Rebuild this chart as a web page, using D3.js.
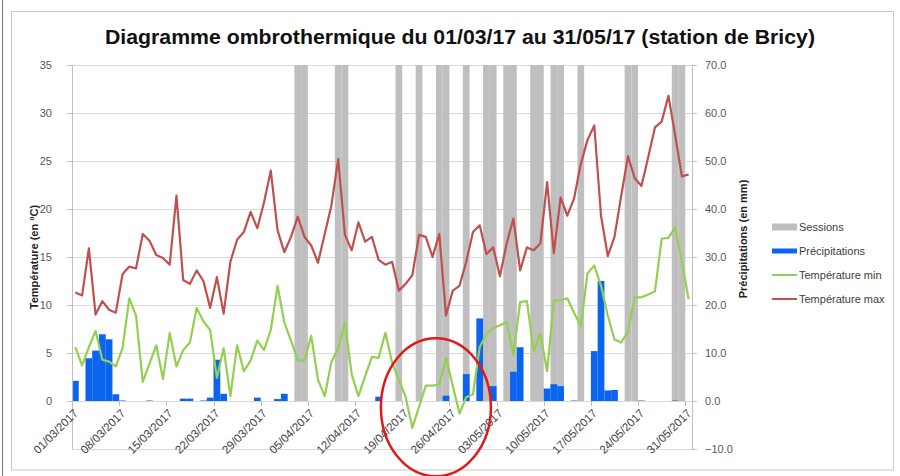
<!DOCTYPE html>
<html>
<head>
<meta charset="utf-8">
<script src="https://cdn.jsdelivr.net/npm/d3@7"></script>
<style>
body { margin:0; background:#fff; }
svg { display:block; font-family:"Liberation Sans", Arial, sans-serif; }
</style>
</head>
<body>
<svg id="chart" width="900" height="476"></svg>
<script>
// daily values, 01/03/2017 -> 31/05/2017
var tmax = [11.3,11.0,15.9,9.0,10.4,9.5,9.2,13.2,14.0,13.8,17.4,16.7,15.2,14.9,14.2,21.4,12.6,12.2,13.6,12.5,9.7,12.9,9.1,14.5,
  16.8,17.6,19.7,18.0,20.7,24.0,17.8,15.5,17.1,19.2,17.1,16.2,14.4,17.4,20.4,25.2,17.3,15.7,18.6,16.6,17.1,14.7,14.2,14.5,
  11.5,12.2,13.1,17.3,17.1,15.0,17.4,8.9,11.5,12.0,14.5,17.6,18.3,15.3,16.0,13.0,16.4,19.0,13.6,16.0,15.7,16.4,22.8,15.4,
  21.2,19.3,21.1,24.7,27.2,28.7,19.3,15.1,17.1,21.4,25.5,23.2,22.4,25.4,28.5,29.1,31.8,27.7,23.4,23.6];
var tmin = [5.6,3.7,5.6,7.3,4.3,4.1,3.6,5.5,10.7,8.9,2.0,3.9,5.8,2.3,7.1,3.6,5.3,6.1,9.7,8.3,7.4,2.4,5.5,0.5,
  5.8,3.1,4.2,6.3,5.3,7.4,12.0,8.2,6.3,4.2,4.2,6.8,2.2,0.5,4.1,5.5,8.2,2.8,0.5,2.6,4.6,4.5,7.1,4.0,
  2.2,0.45,-2.8,-0.6,1.6,1.6,1.7,4.5,1.6,-1.3,0.4,0.7,5.6,7.0,7.6,7.9,8.2,4.8,10.3,10.4,5.2,7.0,3.1,10.4,
  10.5,10.7,9.2,7.8,13.3,14.1,12.0,8.9,6.4,6.1,7.2,10.8,10.8,11.1,11.4,16.9,17.0,18.1,14.5,10.6];
var precip = [4.2,0,8.9,10.5,13.9,12.85,1.4,0.1,0,0,0,0.1,0,0,0,0,0.5,0.5,0,0.1,0.7,8.6,1.5,0,
  0,0,0,0.7,0,0,0.4,1.5,0,0,0,0,0,0,0,0,0,0,0,0,0,0.9,0,0,
  0,0,0,0,0,0,0,1.1,0,0,5.6,0,17.2,0,3.1,0,0,6.1,11.2,0,0,0,2.6,3.5,
  3.1,0,0.1,0,0,10.4,25.0,2.2,2.3,0,0,0,0.1,0,0,0,0,0.1,0,0];
var sessions = ["03/04/2017","04/04/2017","09/04/2017","10/04/2017","18/04/2017","21/04/2017","24/04/2017","25/04/2017",
  "28/04/2017","01/05/2017","02/05/2017","04/05/2017","05/05/2017","08/05/2017","09/05/2017","11/05/2017","12/05/2017",
  "15/05/2017","22/05/2017","23/05/2017","29/05/2017","30/05/2017"];
var sessionValue = 70;
var tempTicks = [0,5,10,15,20,25,30,35];
var precipTicks = [-10,0,10,20,30,40,50,60,70];

var svg = d3.select("#chart");
var margin = {top:65, left:72, bottom:27, right:208};
var width = 900, height = 476;

var fmt = d3.utcFormat("%d/%m/%Y");
var days = d3.utcDay.range(new Date(Date.UTC(2017,2,1)), new Date(Date.UTC(2017,5,1))).map(fmt);

var x = d3.scaleBand().domain(days).range([margin.left, width-margin.right]).padding(0);
var bw = x.bandwidth();
var yT = d3.scaleLinear().domain([-5,35]).range([height-margin.bottom, margin.top]);
var yP = d3.scaleLinear().domain([-10,70]).range([height-margin.bottom, margin.top]);

// outer frame
svg.append("line").attr("x1",2.5).attr("x2",2.5).attr("y1",0).attr("y2",height)
  .attr("stroke","#777").attr("stroke-width",1);
svg.append("rect").attr("x",11.5).attr("y",11.5).attr("width",882).attr("height",458.5)
  .attr("fill","none").attr("stroke","#c8c8c8").attr("stroke-width",1);

// title
svg.append("text")
  .attr("x",460).attr("y",44)
  .attr("text-anchor","middle")
  .attr("font-size",20)
  .attr("font-weight","bold")
  .attr("fill","#111")
  .attr("textLength",710).attr("lengthAdjust","spacingAndGlyphs")
  .text("Diagramme ombrothermique du 01/03/17 au 31/05/17 (station de Bricy)");

// gridlines
svg.append("g").selectAll("line").data(precipTicks).enter().append("line")
  .attr("x1",margin.left).attr("x2",width-margin.right)
  .attr("y1",function(d){ return Math.round(yP(d))+0.5; })
  .attr("y2",function(d){ return Math.round(yP(d))+0.5; })
  .attr("stroke","#d9d9d9").attr("stroke-width",1);

// sessions
svg.append("g").selectAll("rect").data(sessions).enter().append("rect")
  .attr("x",function(d){ return x(d); })
  .attr("width",bw)
  .attr("y",yP(sessionValue))
  .attr("height",yP(0)-yP(sessionValue))
  .attr("fill","#bfbfbf");

// precipitations
svg.append("g").selectAll("rect").data(precip).enter().append("rect")
  .attr("x",function(d,i){ return x(days[i]); })
  .attr("width",bw)
  .attr("y",function(d){ return yP(d); })
  .attr("height",function(d){ return yP(0)-yP(d); })
  .attr("fill","#0a64f0");

// left axis
var yAxisL = d3.axisLeft(yT).tickValues(tempTicks).tickSize(5).tickPadding(15);
var gl = svg.append("g").attr("transform","translate("+margin.left+",0)").call(yAxisL);
gl.select(".domain").remove();
gl.append("line").attr("x1",0.5).attr("x2",0.5).attr("y1",margin.top).attr("y2",height-margin.bottom).attr("stroke","#bfbfbf");
gl.selectAll(".tick line").attr("stroke","#bfbfbf");
gl.selectAll(".tick text").attr("font-size",11).attr("fill","#595959").attr("font-family","Liberation Sans, Arial, sans-serif");

// right axis
var yAxisR = d3.axisRight(yP).tickValues(precipTicks).tickSize(5).tickPadding(8).tickFormat(d3.format(".1f"));
var gr = svg.append("g").attr("transform","translate("+(width-margin.right)+",0)").call(yAxisR);
gr.select(".domain").remove();
gr.append("line").attr("x1",0.5).attr("x2",0.5).attr("y1",margin.top).attr("y2",height-margin.bottom).attr("stroke","#bfbfbf");
gr.selectAll(".tick line").attr("stroke","#bfbfbf");
gr.selectAll(".tick text").attr("font-size",11).attr("fill","#595959").attr("font-family","Liberation Sans, Arial, sans-serif");

// x axis at 0
var weekly = days.filter(function(d,i){ return i%7==0; });
var gx = svg.append("g");
gx.selectAll("line").data(weekly).enter().append("line")
  .attr("x1",function(d){ return Math.round(x(d))+0.5; })
  .attr("x2",function(d){ return Math.round(x(d))+0.5; })
  .attr("y1",yT(0)).attr("y2",yT(0)+5)
  .attr("stroke","#bfbfbf");
gx.selectAll("text").data(weekly).enter().append("text")
  .attr("transform",function(d){ return "translate("+(x(d)+4)+","+(yT(0)+10)+")rotate(-45)"; })
  .attr("text-anchor","end")
  .attr("dy","0.35em")
  .attr("font-size",11.5)
  .attr("fill","#404040")
  .text(function(d){ return d; });

// lines
var lineMin = d3.line().x(function(d,i){ return x(days[i])+bw/2; }).y(function(d){ return yT(d); });
svg.append("path").datum(tmin).attr("d",lineMin)
  .attr("fill","none").attr("stroke","#92d050").attr("stroke-width",2.2).attr("stroke-linejoin","round");
svg.append("path").datum(tmax).attr("d",lineMin)
  .attr("fill","none").attr("stroke","#c0504d").attr("stroke-width",2.2).attr("stroke-linejoin","round");

// axis titles
svg.append("text")
  .attr("transform","translate(38,"+yT(15)+")rotate(-90)")
  .attr("text-anchor","middle")
  .attr("font-size",11).attr("font-weight","bold").attr("fill","#222")
  .text("Température (en °C)");
svg.append("text")
  .attr("transform","translate(747,239)rotate(-90)")
  .attr("text-anchor","middle")
  .attr("font-size",11).attr("font-weight","bold").attr("fill","#222")
  .text("Précipitations (en mm)");

// legend
var legend = [
  {name:"Sessions", type:"rect", color:"#bfbfbf", h:7},
  {name:"Précipitations", type:"rect", color:"#0a64f0", h:5},
  {name:"Température min", type:"line", color:"#92d050"},
  {name:"Température max", type:"line", color:"#c0504d"}
];
var lg = svg.append("g").attr("transform","translate(772,227)");
legend.forEach(function(l,i){
  var row = lg.append("g").attr("transform","translate(0,"+(i*24)+")");
  if(l.type=="rect"){
    row.append("rect").attr("x",0).attr("y",-l.h/2).attr("width",25).attr("height",l.h).attr("fill",l.color);
  } else {
    row.append("line").attr("x1",0).attr("x2",25).attr("y1",0).attr("y2",0).attr("stroke",l.color).attr("stroke-width",2);
  }
  row.append("text").attr("x",27).attr("dy","0.35em").attr("font-size",11).attr("fill","#404040").text(l.name);
});

// red annotation circle around the frost days
svg.append("ellipse")
  .attr("cx",x("24/04/2017")).attr("cy",yT(-0.65))
  .attr("rx",55).attr("ry",69)
  .attr("fill","none").attr("stroke","#e01818").attr("stroke-width",2.5);
</script>
</body>
</html>
